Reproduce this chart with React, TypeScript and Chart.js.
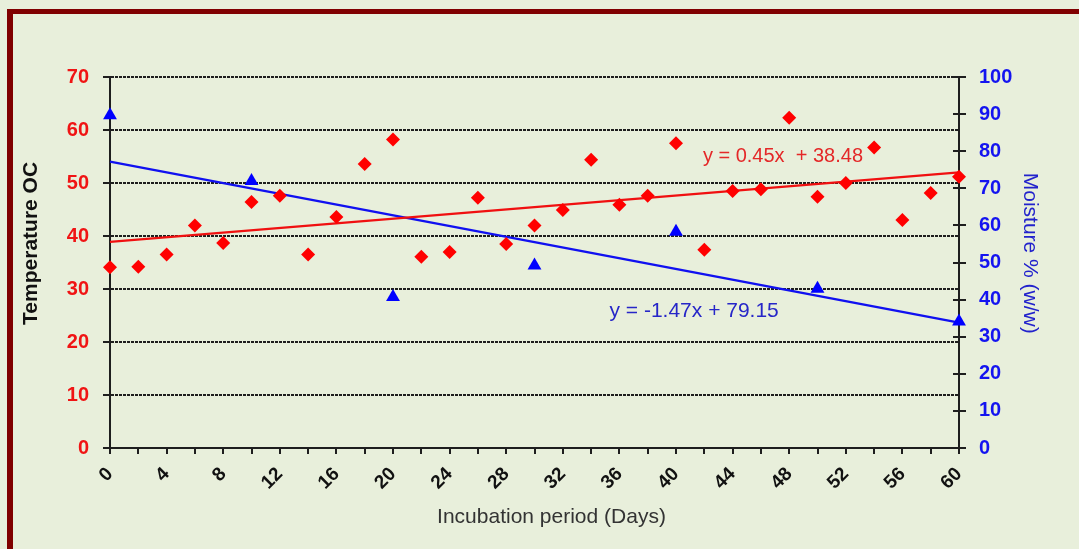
import React, { useEffect, useRef } from 'react';
import { Chart, registerables } from 'chart.js';

Chart.register(...registerables);

// ---- data ----
const days = [0, 2, 4, 6, 8, 10, 12, 14, 16, 18, 20, 22, 24, 26, 28, 30, 32, 34, 36, 38, 40, 42, 44, 46, 48, 50, 52, 54, 56, 58, 60];
const temperature = [34.1, 34.2, 36.5, 42.0, 38.7, 46.4, 47.6, 36.5, 43.6, 53.6, 58.2, 36.1, 37.0, 47.2, 38.5, 42.0, 44.9, 54.4, 45.9, 47.6, 57.5, 37.4, 48.5, 48.8, 62.3, 47.4, 50.0, 56.7, 43.0, 48.1, 51.2];
const moistureDays = [0, 10, 20, 30, 40, 50, 60];
const moisture = [89.7, 72.0, 40.7, 49.2, 58.3, 42.9, 34.1];
const trendDays = [0, 60];
const temperatureTrend = [38.9, 52.0];
const moistureTrend = [77.2, 33.8];

const xMin = 0;
const xMax = 60;
const xTickStep = 2;
const xLabelStep = 4;
const tempMin = 0;
const tempMax = 70;
const tempStep = 10;
const moistMin = 0;
const moistMax = 100;
const moistStep = 10;

const xTitle = 'Incubation period (Days)';
const yTitle = 'Temperature OC';
const y2Title = 'Moisture % (w/w)';
const tempEquation = 'y = 0.45x  + 38.48';
const moistEquation = 'y = -1.47x + 79.15';

// ---- styles ----
const FONT = '"Liberation Sans", Arial, Helvetica, sans-serif';
const BG = '#E8EFDB';
const FRAME = '#800000';
const RED = '#FF0000';
const BLUE = '#0000FF';
const GRID = '#1e1e1e';

const overlayPlugin = {
  id: 'overlay',
  afterDraw(chart: any) {
    const { ctx, chartArea, scales } = chart;
    const x = scales.x;
    const y = scales.y;
    const y2 = scales.y2;
    ctx.save();

    // inner half of the right-axis cross ticks
    ctx.strokeStyle = GRID;
    ctx.lineWidth = 2;
    y2.ticks.forEach((t: any) => {
      const py = Math.round(y2.getPixelForValue(t.value));
      ctx.beginPath();
      ctx.moveTo(chartArea.right - 6, py);
      ctx.lineTo(chartArea.right, py);
      ctx.stroke();
    });

    // equations
    ctx.textAlign = 'left';
    ctx.textBaseline = 'alphabetic';
    ctx.font = `20px ${FONT}`;
    ctx.fillStyle = '#E42828';
    ctx.fillText(tempEquation, x.getPixelForValue(41.9), y.getPixelForValue(53.9));
    ctx.font = `21px ${FONT}`;
    ctx.fillStyle = '#2626C8';
    ctx.fillText(moistEquation, x.getPixelForValue(35.3), y.getPixelForValue(24.7));

    // x title
    ctx.textAlign = 'center';
    ctx.font = `21px ${FONT}`;
    ctx.fillStyle = '#333333';
    ctx.fillText(xTitle, x.getPixelForValue(31.2), chartArea.bottom + 75);

    // left title
    ctx.save();
    ctx.translate(36.7, y.getPixelForValue(38.6));
    ctx.rotate(-Math.PI / 2);
    ctx.font = `bold 21px ${FONT}`;
    ctx.fillStyle = '#111111';
    ctx.fillText(yTitle, 0, 0);
    ctx.restore();

    // right title
    ctx.save();
    ctx.translate(1023.5, y2.getPixelForValue(52.5));
    ctx.rotate(Math.PI / 2);
    ctx.font = `21px ${FONT}`;
    ctx.fillStyle = '#2222CC';
    ctx.fillText(y2Title, 0, 0);
    ctx.restore();

    ctx.restore();
  },
};

function zeroPad(s: any) {
  s.paddingTop = 0;
  s.paddingBottom = 0;
  s.paddingLeft = 0;
  s.paddingRight = 0;
}

export default function App() {
  const canvasRef = useRef<HTMLCanvasElement | null>(null);

  useEffect(() => {
    const canvas = canvasRef.current;
    if (!canvas) return;
    const chart = new Chart(canvas, {
      type: 'scatter',
      data: {
        datasets: [
          {
            label: 'Temperature',
            data: days.map((d, i) => ({ x: d, y: temperature[i] })),
            yAxisID: 'y',
            pointStyle: 'rectRot',
            pointRadius: 7,
            backgroundColor: RED,
            borderColor: RED,
            borderWidth: 0,
            clip: false,
          },
          {
            label: 'Moisture',
            data: moistureDays.map((d, i) => ({ x: d, y: moisture[i] })),
            yAxisID: 'y2',
            pointStyle: 'triangle',
            pointRadius: 8,
            backgroundColor: BLUE,
            borderColor: BLUE,
            borderWidth: 0,
            clip: false,
          },
          {
            label: 'Temperature trend',
            data: trendDays.map((d, i) => ({ x: d, y: temperatureTrend[i] })),
            yAxisID: 'y',
            showLine: true,
            pointRadius: 0,
            borderColor: '#F01010',
            borderWidth: 2.4,
            clip: false,
          },
          {
            label: 'Moisture trend',
            data: trendDays.map((d, i) => ({ x: d, y: moistureTrend[i] })),
            yAxisID: 'y2',
            showLine: true,
            pointRadius: 0,
            borderColor: '#1010F0',
            borderWidth: 2.4,
            clip: false,
          },
        ],
      },
      options: {
        animation: false,
        responsive: false,
        devicePixelRatio: 1,
        layout: { padding: { top: 77, left: 0, right: 0, bottom: 0 } },
        plugins: {
          legend: { display: false },
          tooltip: { enabled: false },
          title: { display: false },
        },
        scales: {
          x: {
            type: 'linear',
            min: xMin,
            max: xMax,
            afterFit: (s: any) => { s.height = 101; zeroPad(s); },
            grid: {
              drawOnChartArea: false,
              drawTicks: true,
              tickLength: 6,
              color: GRID,
              lineWidth: 2,
            },
            border: { display: true, color: GRID, width: 2 },
            ticks: {
              stepSize: xTickStep,
              autoSkip: false,
              minRotation: 45,
              maxRotation: 45,
              padding: 9,
              color: '#111111',
              font: { family: FONT, size: 19, weight: 'bold' },
              callback: (v: any) => (Number(v) % xLabelStep === 0 ? String(v) : ''),
            },
          },
          y: {
            type: 'linear',
            position: 'left',
            min: tempMin,
            max: tempMax,
            afterFit: (s: any) => { s.width = 110; zeroPad(s); },
            grid: {
              drawOnChartArea: true,
              drawTicks: true,
              tickLength: 7,
              color: GRID,
              lineWidth: 2,
            },
            border: { display: true, color: GRID, width: 2, dash: [3, 1] },
            ticks: {
              stepSize: tempStep,
              padding: 14,
              color: '#F01414',
              font: { family: FONT, size: 20, weight: 'bold' },
            },
          },
          y2: {
            type: 'linear',
            position: 'right',
            min: moistMin,
            max: moistMax,
            afterFit: (s: any) => { s.width = 120; zeroPad(s); },
            grid: {
              drawOnChartArea: false,
              drawTicks: true,
              tickLength: 7,
              color: GRID,
              lineWidth: 2,
            },
            border: { display: true, color: GRID, width: 2 },
            ticks: {
              stepSize: moistStep,
              padding: 13,
              color: '#1414F0',
              font: { family: FONT, size: 20, weight: 'bold' },
            },
          },
        },
      },
      plugins: [overlayPlugin],
    } as any);
    return () => chart.destroy();
  }, []);

  return (
    <div style={{ position: 'fixed', left: 0, top: 0, width: 1079, height: 549, background: BG, overflow: 'hidden' }}>
      <div
        style={{
          position: 'absolute',
          left: 7,
          top: 9,
          right: -20,
          bottom: -20,
          borderTop: `5px solid ${FRAME}`,
          borderLeft: `6px solid ${FRAME}`,
        }}
      />
      <canvas ref={canvasRef} width={1079} height={549} style={{ position: 'absolute', left: 0, top: 0, width: 1079, height: 549 }} />
    </div>
  );
}
